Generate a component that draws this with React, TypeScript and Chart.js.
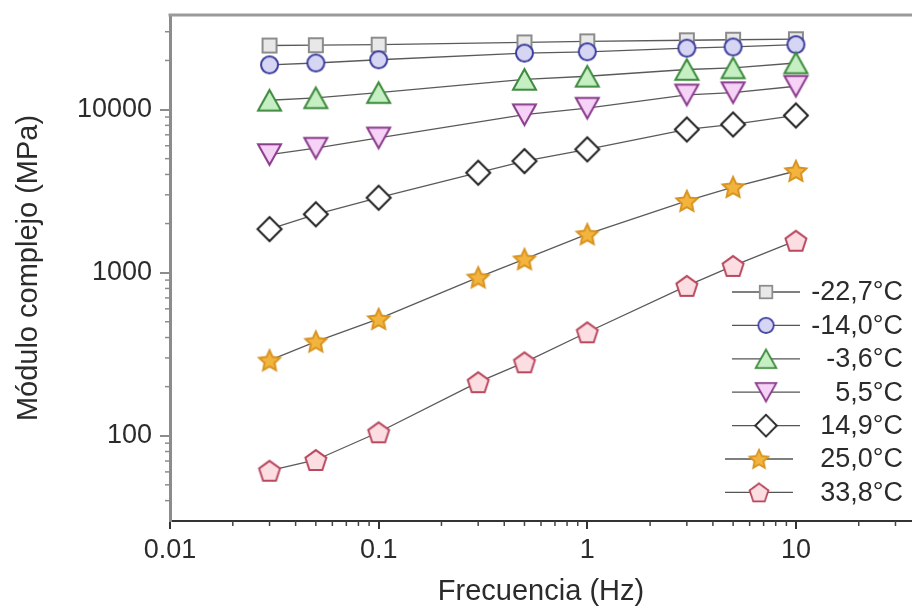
import React, { useEffect, useRef } from "react";
import { Chart, registerables } from "chart.js";

Chart.register(...registerables);

// Frequency sweep (Hz) shared by all temperatures
const frequencies = [0.03, 0.05, 0.1, 0.3, 0.5, 1, 3, 5, 10];

// Series names (test temperature)
const temperatureLabels = ["-22,7°C", "-14,0°C", "-3,6°C", "5,5°C", "14,9°C", "25,0°C", "33,8°C"];

// Complex modulus (MPa) per temperature; null = not measured at that frequency
const modulusMinus22_7 = [24700, 24800, 25000, null, 25800, 26200, 26600, 26800, 27000];
const modulusMinus14_0 = [18800, 19300, 20200, null, 22200, 22600, 23800, 24200, 25000];
const modulusMinus3_6 = [11400, 11800, 12700, null, 15300, 16000, 17600, 18000, 19300];
const modulus5_5 = [5300, 5800, 6700, null, 9300, 10200, 12300, 12700, 13900];
const modulus14_9 = [1850, 2280, 2880, 4100, 4830, 5700, 7550, 8100, 9200];
const modulus25_0 = [290, 378, 520, 935, 1210, 1720, 2750, 3350, 4200];
const modulus33_8 = [61, 71, 105, 213, 282, 431, 830, 1100, 1570];

const modulusSeries = [
  modulusMinus22_7,
  modulusMinus14_0,
  modulusMinus3_6,
  modulus5_5,
  modulus14_9,
  modulus25_0,
  modulus33_8,
];

// Axis ticks
const xMajorTicks = [0.01, 0.1, 1, 10];
const yMajorTicks = [100, 1000, 10000];
const xRange = { min: 0.01, max: 36 };
const yRange = { min: 30, max: 38000 };

const FONT = 'Arial, "Liberation Sans", Helvetica, sans-serif';
const TEXT_COLOR = "#2b2b2b";

type MarkerKind = "square" | "circle" | "triangle" | "triangleDown" | "diamond" | "star" | "pentagon";

interface MarkerStyle {
  kind: MarkerKind;
  size: number;
  stroke: string;
  fill: string;
}

const markerStyles: MarkerStyle[] = [
  { kind: "square", size: 14, stroke: "#8c8c8c", fill: "#e8e8e8" },
  { kind: "circle", size: 17, stroke: "#3d3f9e", fill: "#d6d6f4" },
  { kind: "triangle", size: 23, stroke: "#3c8a3c", fill: "#c6efc4" },
  { kind: "triangleDown", size: 23, stroke: "#8a3b8c", fill: "#f6d2f6" },
  { kind: "diamond", size: 24, stroke: "#222222", fill: "#ffffff" },
  { kind: "star", size: 22, stroke: "#d99321", fill: "#f2b43c" },
  { kind: "pentagon", size: 22, stroke: "#b9485e", fill: "#fbdde2" },
];

function makeMarker(style: MarkerStyle, lineWidth = 2): HTMLCanvasElement {
  const pad = Math.ceil(lineWidth) + 2;
  const dim = Math.ceil(style.size + pad * 2);
  const canvas = document.createElement("canvas");
  canvas.width = dim;
  canvas.height = dim;
  const ctx = canvas.getContext("2d")!;
  ctx.translate(dim / 2, dim / 2);
  const r = style.size / 2;
  ctx.beginPath();
  switch (style.kind) {
    case "square":
      ctx.rect(-r, -r, 2 * r, 2 * r);
      break;
    case "circle":
      ctx.arc(0, 0, r, 0, Math.PI * 2);
      break;
    case "triangle": {
      const h = r * 0.9;
      ctx.moveTo(0, -h);
      ctx.lineTo(r, h);
      ctx.lineTo(-r, h);
      break;
    }
    case "triangleDown": {
      const h = r * 0.9;
      ctx.moveTo(0, h);
      ctx.lineTo(r, -h);
      ctx.lineTo(-r, -h);
      break;
    }
    case "diamond":
      ctx.moveTo(0, -r);
      ctx.lineTo(r, 0);
      ctx.lineTo(0, r);
      ctx.lineTo(-r, 0);
      break;
    case "star": {
      const inner = r * 0.48;
      for (let k = 0; k < 10; k++) {
        const rad = k % 2 === 0 ? r : inner;
        const a = -Math.PI / 2 + (k * Math.PI) / 5;
        const px = rad * Math.cos(a);
        const py = rad * Math.sin(a) + r * 0.08;
        if (k === 0) ctx.moveTo(px, py);
        else ctx.lineTo(px, py);
      }
      break;
    }
    case "pentagon":
      for (let k = 0; k < 5; k++) {
        const a = -Math.PI / 2 + (k * 2 * Math.PI) / 5;
        const px = r * Math.cos(a);
        const py = r * Math.sin(a) + r * 0.1;
        if (k === 0) ctx.moveTo(px, py);
        else ctx.lineTo(px, py);
      }
      break;
  }
  ctx.closePath();
  ctx.fillStyle = style.fill;
  ctx.fill();
  ctx.lineWidth = lineWidth;
  ctx.lineJoin = "miter";
  ctx.strokeStyle = style.stroke;
  ctx.stroke();
  return canvas;
}

function minorValues(min: number, max: number): number[] {
  const out: number[] = [];
  for (let e = Math.floor(Math.log10(min)); e <= Math.ceil(Math.log10(max)); e++) {
    const base = Math.pow(10, e);
    for (let m = 2; m <= 9; m++) {
      const v = m * base;
      if (v > min && v < max) out.push(v);
    }
  }
  return out;
}

// Frame line on top, short minor ticks on both axes
const framePlugin = {
  id: "frameAndMinorTicks",
  afterDraw(chart: any) {
    const { ctx, chartArea } = chart;
    const xs = chart.scales.x;
    const ys = chart.scales.y;
    ctx.save();
    ctx.strokeStyle = "#9a9a9a";
    ctx.lineWidth = 3;
    ctx.beginPath();
    ctx.moveTo(chartArea.left - 1.5, chartArea.top);
    ctx.lineTo(chartArea.right, chartArea.top);
    ctx.stroke();

    ctx.lineWidth = 1.5;
    ctx.strokeStyle = "#444";
    for (const v of minorValues(xRange.min, xRange.max)) {
      const px = xs.getPixelForValue(v);
      ctx.beginPath();
      ctx.moveTo(px, chartArea.bottom);
      ctx.lineTo(px, chartArea.bottom + 5);
      ctx.stroke();
    }
    ctx.strokeStyle = "#8c8c8c";
    for (const v of minorValues(yRange.min, yRange.max)) {
      const py = ys.getPixelForValue(v);
      ctx.beginPath();
      ctx.moveTo(chartArea.left, py);
      ctx.lineTo(chartArea.left - 5, py);
      ctx.stroke();
    }
    ctx.restore();
  },
};

// Inset legend at lower right, labels right-aligned
const legendPlugin = {
  id: "insetLegend",
  afterDraw(chart: any) {
    const { ctx, chartArea } = chart;
    const textRight = chartArea.right - 9;
    const rowTop = chartArea.bottom - 229;
    const rowStep = 33.4;
    ctx.save();
    chart.data.datasets.forEach((ds: any, i: number) => {
      const y = rowTop + i * rowStep;
      const shift = i >= 5 ? -7 : 0;
      const cx = chartArea.right - 146 + shift;
      ctx.strokeStyle = "#555";
      ctx.lineWidth = 1.3;
      ctx.beginPath();
      ctx.moveTo(cx - 34, y);
      ctx.lineTo(cx + 34, y);
      ctx.stroke();
      const img: HTMLCanvasElement = ds.pointStyle;
      const scale = 0.9;
      const w = img.width * scale;
      ctx.drawImage(img, cx - w / 2, y - w / 2, w, w);
      ctx.font = `27px ${FONT}`;
      ctx.fillStyle = TEXT_COLOR;
      ctx.textAlign = "right";
      ctx.textBaseline = "middle";
      ctx.fillText(ds.label, textRight, y + 1);
    });
    ctx.restore();
  },
};

export default function App() {
  const canvasRef = useRef<HTMLCanvasElement | null>(null);

  useEffect(() => {
    if (!canvasRef.current) return;
    const datasets = modulusSeries.map((series, i) => ({
      label: temperatureLabels[i],
      data: frequencies
        .map((f, k) => ({ x: f, y: series[k] }))
        .filter((p) => p.y !== null),
      borderColor: "#5a5a5a",
      borderWidth: 1.3,
      backgroundColor: markerStyles[i].fill,
      pointStyle: makeMarker(markerStyles[i]),
      pointRadius: 10,
      showLine: true,
      spanGaps: true,
      tension: 0,
      order: 10 - i,
    }));

    const chart = new Chart(canvasRef.current, {
      type: "scatter",
      data: { datasets: datasets as any },
      options: {
        responsive: false,
        animation: false,
        events: [],
        layout: { autoPadding: false, padding: { top: 15, right: 0, bottom: 0, left: 0 } },
        plugins: {
          legend: { display: false },
          tooltip: { enabled: false },
        },
        scales: {
          x: {
            type: "logarithmic",
            min: xRange.min,
            max: xRange.max,
            afterBuildTicks: (s: any) => {
              s.ticks = xMajorTicks.map((v) => ({ value: v }));
            },
            afterFit: (s: any) => {
              s.height = 88;
              s.paddingLeft = 0;
              s.paddingRight = 0;
            },
            ticks: {
              callback: (v: any) => String(v),
              font: { family: FONT, size: 27 },
              color: TEXT_COLOR,
              padding: 5,
              maxRotation: 0,
              autoSkip: false,
            },
            grid: {
              drawOnChartArea: false,
              drawTicks: true,
              tickLength: 8,
              color: "#333",
              lineWidth: 2,
            },
            border: { display: true, color: "#333", width: 2 },
            title: {
              display: true,
              text: "Frecuencia (Hz)",
              font: { family: FONT, size: 29 },
              color: TEXT_COLOR,
              padding: { top: 0, bottom: 0 },
            },
          },
          y: {
            type: "logarithmic",
            min: yRange.min,
            max: yRange.max,
            afterBuildTicks: (s: any) => {
              s.ticks = yMajorTicks.map((v) => ({ value: v }));
            },
            afterFit: (s: any) => {
              s.width = 170;
              s.paddingTop = 0;
              s.paddingBottom = 0;
            },
            ticks: {
              callback: (v: any) => String(v),
              font: { family: FONT, size: 27 },
              color: TEXT_COLOR,
              padding: 8,
              autoSkip: false,
            },
            grid: {
              drawOnChartArea: false,
              drawTicks: true,
              tickLength: 10,
              color: "#8c8c8c",
              lineWidth: 2,
            },
            border: { display: true, color: "#8c8c8c", width: 3 },
            title: {
              display: true,
              text: "Módulo complejo (MPa)",
              font: { family: FONT, size: 29 },
              color: TEXT_COLOR,
              padding: { top: 12, bottom: 0 },
            },
          },
        },
      },
      plugins: [framePlugin, legendPlugin],
    });
    return () => chart.destroy();
  }, []);

  return (
    <div style={{ position: "absolute", left: 0, top: 0, width: 912, height: 609, background: "#fff" }}>
      <canvas ref={canvasRef} width={912} height={609} style={{ display: "block" }} />
    </div>
  );
}
